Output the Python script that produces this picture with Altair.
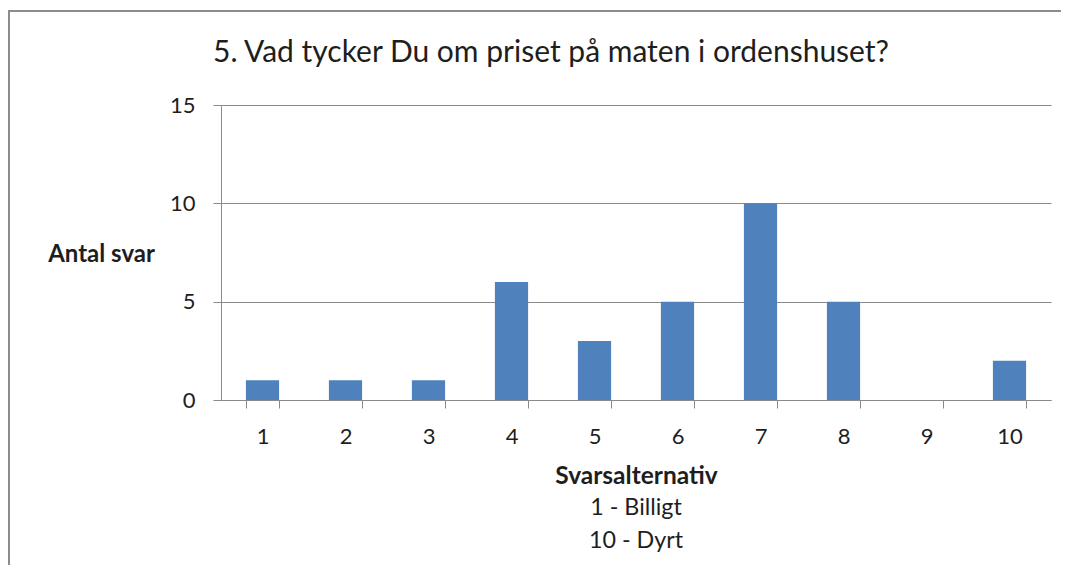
import altair as alt
import pandas as pd

categories = ["1", "2", "3", "4", "5", "6", "7", "8", "9", "10"]
counts = [1, 1, 1, 6, 3, 5, 10, 5, 0, 2]
y_ticks = [0, 5, 10, 15]
title_text = "5. Vad tycker Du om priset på maten i ordenshuset?"
y_title = "Antal svar"
x_title = "Svarsalternativ"
x_notes = ["1 - Billigt", "10 - Dyrt"]

W, H = 830, 295
FONT = "Lato"
TXT = "#1e1e1e"
GRID = "#8a8a8a"
BORDER = "#8c8c8c"

df = pd.DataFrame({"alt": categories, "antal": counts})

one = alt.Data(values=[{}])

border_top = alt.Chart(one).mark_rule(color=BORDER, strokeWidth=2).encode(
    x=alt.value(-212), x2=alt.value(W + 60), y=alt.value(-94)
)
border_left = alt.Chart(one).mark_rule(color=BORDER, strokeWidth=2).encode(
    x=alt.value(-212), y=alt.value(-95), y2=alt.value(H + 300)
)

bars = alt.Chart(df).mark_bar(color="#4F81BD").encode(
    x=alt.X("alt:N", sort=categories,
            scale=alt.Scale(paddingInner=0.6, paddingOuter=0.3),
            axis=alt.Axis(title=x_title, labelAngle=0, tickBand="extent",
                          tickSize=8, tickColor=GRID, domainColor=GRID,
                          labelFont=FONT, labelFontSize=22, labelColor=TXT,
                          labelBaseline="alphabetic", labelPadding=35,
                          titleFont=FONT, titleFontSize=24.5, titleFontWeight="bold",
                          titleColor=TXT, titleBaseline="alphabetic", titleY=83)),
    y=alt.Y("antal:Q", scale=alt.Scale(domain=[0, 15]),
            axis=alt.Axis(values=y_ticks, title=y_title, titleAngle=0,
                          titleX=-120, titleY=149, titleAlign="center",
                          titleBaseline="middle", titleFont=FONT, titleFontSize=24,
                          titleFontWeight="bold", titleColor=TXT,
                          tickSize=8, tickColor=GRID, domainColor=GRID,
                          gridColor=GRID, gridOpacity=1,
                          labelFont=FONT, labelFontSize=22, labelColor=TXT,
                          labelPadding=18))
)

title = alt.Chart(one).mark_text(
    text=title_text, font=FONT, fontSize=30, color=TXT,
    align="center", baseline="alphabetic"
).encode(x=alt.value(330), y=alt.value(-43))

note1 = alt.Chart(one).mark_text(
    text=x_notes[0], font=FONT, fontSize=23.3, color=TXT,
    align="center", baseline="alphabetic"
).encode(x=alt.value(W / 2), y=alt.value(H + 115))

note2 = alt.Chart(one).mark_text(
    text=x_notes[1], font=FONT, fontSize=23.3, color=TXT,
    align="center", baseline="alphabetic"
).encode(x=alt.value(W / 2), y=alt.value(H + 148))

chart = alt.layer(border_top, border_left, bars, title, note1, note2).properties(
    width=W, height=H,
    padding={"left": 213, "top": 97, "right": 10, "bottom": 165},
    autosize=alt.AutoSizeParams(type="none"),
).configure_view(stroke=None)

chart.save("out.html", embed_options={"renderer": "svg", "actions": False})
